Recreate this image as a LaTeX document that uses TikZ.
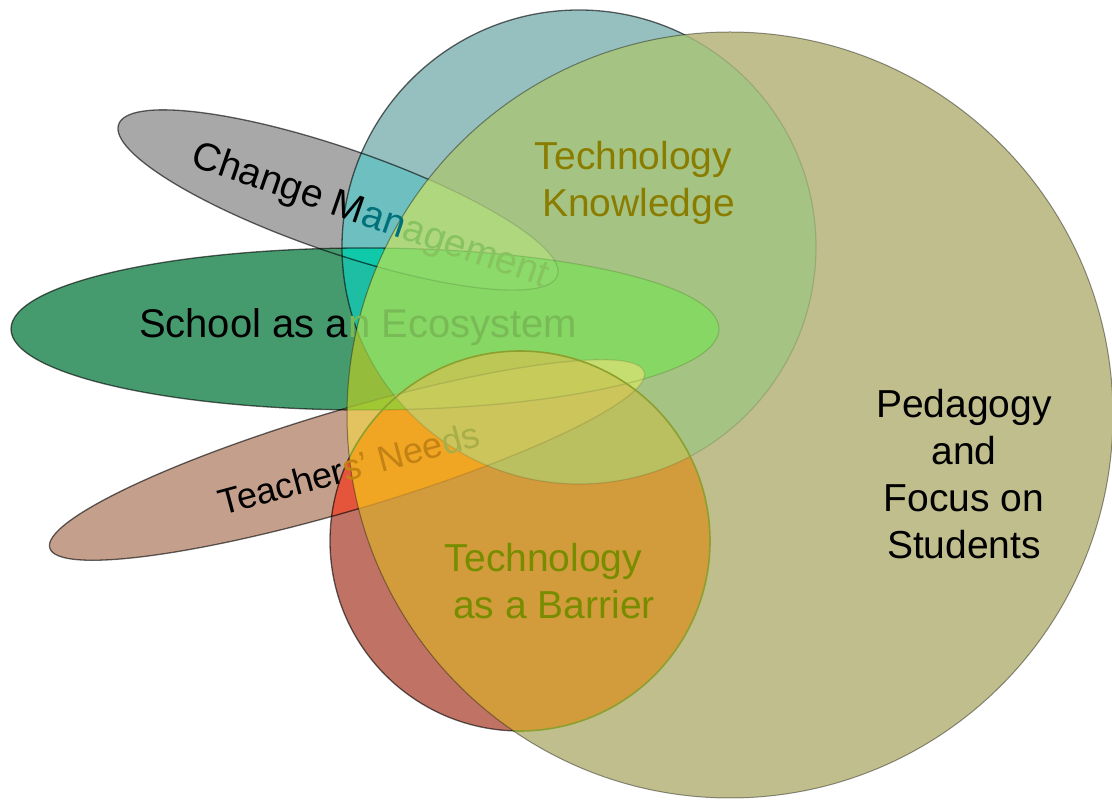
\documentclass[tikz,border=0pt]{standalone}
\usepackage{fontspec}
\setmainfont{Liberation Sans}
% region colours
\definecolor{cG}{HTML}{A8A8A8}
\definecolor{cE}{HTML}{469B6E}
\definecolor{cB}{HTML}{C4A08C}
\definecolor{cR}{HTML}{C07364}
\definecolor{cT}{HTML}{96BFC0}
\definecolor{cO}{HTML}{C0BE8C}
\definecolor{cGT}{HTML}{6EC0C0}
\definecolor{cET}{HTML}{1EBEA5}
\definecolor{cTO}{HTML}{A5C483}
\definecolor{cEO}{HTML}{96BC3C}
\definecolor{cRO}{HTML}{D29B3C}
\definecolor{cBR}{HTML}{E4553C}
\definecolor{cBO}{HTML}{E3C35F}
\definecolor{cGET}{HTML}{10C8AA}
\definecolor{cGTO}{HTML}{AFD77D}
\definecolor{cETO}{HTML}{87D764}
\definecolor{cRTO}{HTML}{BABF5F}
\definecolor{cBRO}{HTML}{F0A523}
\definecolor{cEBO}{HTML}{A0C832}
\definecolor{cBTO}{HTML}{C8DC6E}
\definecolor{cGETO}{HTML}{8CDB6A}
\definecolor{cERTO}{HTML}{BCC756}
\definecolor{cBRTO}{HTML}{CBC55C}
\definecolor{cBETO}{HTML}{C6DE70}
\definecolor{cBERTO}{HTML}{C6CB5A}
% text colours
\definecolor{tkText}{HTML}{8A7C00}
\definecolor{tbText}{HTML}{788C00}
\definecolor{cmTeal}{HTML}{00707A}
\definecolor{cmGreen}{HTML}{87C35F}
\definecolor{ecoGreen}{HTML}{78BA55}
\definecolor{tnOrange}{HTML}{C38214}
\definecolor{tnOlive}{HTML}{A8AE48}
\definecolor{redEdge}{HTML}{8CA030}
% the six shapes, each as a path command taking its options
\newcommand\shO[1]{\path[#1] (730,386) circle[radius=383pt];}
\newcommand\shT[1]{\path[#1] (579,554) circle[radius=237pt];}
\newcommand\shR[1]{\path[#1] (520,260) circle[radius=190pt];}
\newcommand\shG[1]{\path[#1, rotate around={-19:(338,601)}] (338,601) ellipse[x radius=232pt, y radius=52pt];}
\newcommand\shE[1]{\path[#1] (365,472) ellipse[x radius=354pt, y radius=81pt];}
\newcommand\shB[1]{\path[#1, rotate around={16.5:(347,341)}] (347,341) ellipse[x radius=310pt, y radius=50pt];}
% clip to everything outside the big circle
\newcommand\outsideO{\path[clip] (-5,-5) -- (-5,806) -- (1117,806) -- (1117,-5) -- cycle (1113,386) arc[start angle=0, end angle=360, radius=383pt];}
\begin{document}
\begin{tikzpicture}[x=1pt, y=1pt,
  lbl/.style={inner sep=0pt, align=center, font=\fontsize{39}{47}\selectfont},
  edge/.style={line width=1.3pt, draw=black, draw opacity=0.6},
  faint/.style={line width=1.2pt, draw=black, draw opacity=0.12}]
\useasboundingbox (0,0) rectangle (1112,801);

% single shapes
\shG{fill=cG}
\shE{fill=cE}
\shB{fill=cB}
\shR{fill=cR}
\shT{fill=cT}
\shO{fill=cO}

% pairwise overlaps
\begin{scope}\shG{clip}\shT{fill=cGT}\end{scope}
\begin{scope}\shE{clip}\shT{fill=cET}\end{scope}
\begin{scope}\shT{clip}\shO{fill=cTO}\end{scope}
\begin{scope}\shE{clip}\shO{fill=cEO}\end{scope}
\begin{scope}\shR{clip}\shO{fill=cRO}\end{scope}
\begin{scope}\shB{clip}\shR{fill=cBR}\end{scope}
\begin{scope}\shB{clip}\shO{fill=cBO}\end{scope}

% triple overlaps
\begin{scope}\shG{clip}\shE{clip}\shT{fill=cGET}\end{scope}
\begin{scope}\shG{clip}\shT{clip}\shO{fill=cGTO}\end{scope}
\begin{scope}\shE{clip}\shT{clip}\shO{fill=cETO}\end{scope}
\begin{scope}\shR{clip}\shT{clip}\shO{fill=cRTO}\end{scope}
\begin{scope}\shB{clip}\shR{clip}\shO{fill=cBRO}\end{scope}
\begin{scope}\shE{clip}\shB{clip}\shO{fill=cEBO}\end{scope}
\begin{scope}\shB{clip}\shT{clip}\shO{fill=cBTO}\end{scope}

% four and five overlaps
\begin{scope}\shG{clip}\shE{clip}\shT{clip}\shO{fill=cGETO}\end{scope}
\begin{scope}\shE{clip}\shR{clip}\shT{clip}\shO{fill=cERTO}\end{scope}
\begin{scope}\shB{clip}\shR{clip}\shT{clip}\shO{fill=cBRTO}\end{scope}
\begin{scope}\shB{clip}\shE{clip}\shT{clip}\shO{fill=cBETO}\end{scope}
\begin{scope}\shB{clip}\shE{clip}\shR{clip}\shT{clip}\shO{fill=cBERTO}\end{scope}

% outlines: dark outside the big circle, faint inside it
\begin{scope}
  \outsideO
  \shG{edge}\shE{edge}\shB{edge}\shR{edge}\shT{edge}
\end{scope}
\begin{scope}
  \shO{clip}
  \shG{faint}\shE{faint}\shB{faint}\shT{faint}
  \shR{draw=redEdge, line width=1.6pt}
\end{scope}
\shO{draw=black, draw opacity=0.4, line width=1pt}

% labels
\node[lbl, rotate=-19] (cm) at (370,584)
  {Change M\textcolor{cmTeal}{an}\textcolor{cmGreen}{agement}};
\node[lbl, font=\fontsize{40}{48}\selectfont] (eco) at (358,474)
  {School as a\textcolor{ecoGreen}{n Ecosystem}};
\node[lbl, rotate=15, font=\fontsize{36}{44}\selectfont] (tn) at (349,333)
  {Teacher\textcolor{tnOrange}{s’ Nee}\textcolor{tnOlive}{ds}};
\node[lbl, text=tkText] (tk) at (636,618)
  {Technology\rule{5pt}{0pt}\\\rule{5pt}{0pt}Knowledge};
\node[lbl, text=tbText] (tb) at (549,220)
  {Technology\rule{11pt}{0pt}\\\rule{10pt}{0pt}as a Barrier};
\node[lbl] (ped) at (964,327) {Pedagogy\\and\\Focus on\\Students};
\end{tikzpicture}
\end{document}
